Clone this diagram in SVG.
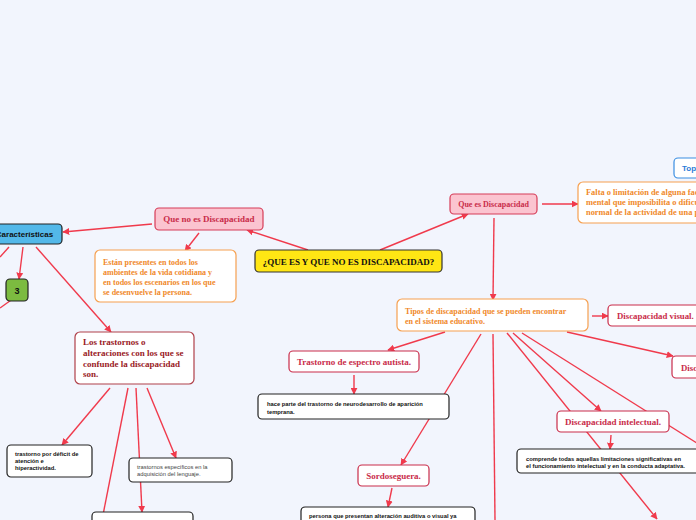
<svg xmlns="http://www.w3.org/2000/svg" width="696" height="520" viewBox="0 0 696 520">
<defs>
<marker id="ah" viewBox="0 0 10 10" refX="9" refY="5" markerWidth="7" markerHeight="7" markerUnits="userSpaceOnUse" orient="auto">
<path d="M0,0 L10,5 L0,10 z" fill="#f03a4c"/>
</marker>
<style>
.bg{fill:#f2f5fd}
.c{stroke:#f03a4c;stroke-width:1.4;fill:none}
.ca{stroke:#f03a4c;stroke-width:1.4;fill:none;marker-end:url(#ah)}
.pink{fill:#fbc4d0;stroke:#d63d58;stroke-width:1.2}
.red{fill:#fff;stroke:#c92c4a;stroke-width:1.2}
.org{fill:#fff;stroke:#f6a050;stroke-width:1.2}
.blk{fill:#fff;stroke:#222;stroke-width:1.2}
.brn{fill:#fff;stroke:#b0404a;stroke-width:1.2}
.ts{font-family:"Liberation Serif","Times New Roman",serif;font-weight:bold}
.tr{fill:#c92c4a}
.to{fill:#f0892a;font-size:8px}
.tb{font-family:"Liberation Sans",Arial,sans-serif;font-size:5.8px;font-weight:bold;fill:#111}
</style>
</defs>
<rect class="bg" x="0" y="0" width="696" height="520"/>
<g id="connectors">
<line class="ca" x1="308" y1="250" x2="247" y2="230"/>
<line class="ca" x1="380" y1="250" x2="468" y2="214"/>
<line class="ca" x1="152" y1="224" x2="63" y2="232"/>
<line class="ca" x1="199" y1="233" x2="185" y2="251"/>
<line class="ca" x1="23" y1="247" x2="19" y2="279"/>
<line class="c" x1="9" y1="247" x2="0" y2="257"/>
<line class="c" x1="14" y1="298" x2="0" y2="308"/>
<line class="ca" x1="36" y1="247" x2="111" y2="332"/>
<line class="ca" x1="110" y1="388" x2="62" y2="445"/>
<line class="ca" x1="147" y1="388" x2="176" y2="458"/>
<line class="ca" x1="136" y1="388" x2="142" y2="512"/>
<line class="c" x1="128" y1="388" x2="102" y2="520"/>
<line class="ca" x1="542" y1="204" x2="578" y2="204"/>
<line class="ca" x1="494" y1="218" x2="493" y2="300"/>
<line class="ca" x1="592" y1="316" x2="608" y2="316"/>
<line class="ca" x1="567" y1="332" x2="673" y2="356"/>
<line class="ca" x1="445" y1="332" x2="388" y2="350"/>
<line class="ca" x1="354" y1="375" x2="354" y2="394"/>
<line class="ca" x1="481" y1="334" x2="401" y2="465"/>
<line class="ca" x1="392" y1="488" x2="388" y2="507"/>
<line class="c" x1="493" y1="334" x2="495" y2="520"/>
<line class="ca" x1="513" y1="333" x2="601" y2="411"/>
<line class="ca" x1="507" y1="333" x2="657" y2="519"/>
<line class="c" x1="522" y1="333" x2="700" y2="445"/>
<line class="ca" x1="611" y1="435" x2="610" y2="449"/>
</g>
<g id="central">
<rect x="255" y="250" width="187" height="22" rx="4" fill="#ffe614" stroke="#333" stroke-width="1.2"/>
<text class="ts" x="348.5" y="264.5" font-size="9" text-anchor="middle" fill="#111">¿QUE ES Y QUE NO ES DISCAPACIDAD?</text>
</g>
<g id="que-no-es">
<rect class="pink" x="155" y="208" width="108" height="22" rx="4"/>
<text class="ts tr" x="209" y="222" font-size="9" text-anchor="middle">Que no es Discapacidad</text>
</g>
<g id="que-es">
<rect class="pink" x="450" y="194" width="87" height="20" rx="4"/>
<text class="ts tr" x="493.5" y="207" font-size="8" text-anchor="middle">Que es Discapacidad</text>
</g>
<g id="caracteristicas">
<rect x="-14" y="224" width="76" height="20" rx="4" fill="#53b8e9" stroke="#222" stroke-width="1.2"/>
<text x="24.5" y="237" font-family="Liberation Sans,Arial,sans-serif" font-weight="bold" font-size="8" text-anchor="middle" fill="#111">Características</text>
</g>
<g id="tres">
<rect x="6" y="279" width="22" height="22" rx="4" fill="#7cbb40" stroke="#222" stroke-width="1.2"/>
<text x="17" y="294" font-family="Liberation Sans,Arial,sans-serif" font-weight="bold" font-size="9" text-anchor="middle" fill="#111">3</text>
</g>
<g id="estan">
<rect class="org" x="95" y="250" width="141" height="52" rx="5"/>
<text class="ts to"><tspan x="103" y="265">Están presentes en todos los</tspan><tspan x="103" y="275">ambientes de la vida cotidiana y</tspan><tspan x="103" y="285">en todos los escenarios en los que</tspan><tspan x="103" y="295">se desenvuelve la persona.</tspan></text>
</g>
<g id="topic">
<rect x="674" y="158" width="40" height="20" rx="4" fill="#fff" stroke="#3a8ee2" stroke-width="1.2"/>
<text x="682" y="171" font-family="Liberation Sans,Arial,sans-serif" font-weight="bold" font-size="8" fill="#2a7bd8">Topic</text>
</g>
<g id="falta">
<rect class="org" x="578" y="182" width="140" height="41" rx="5"/>
<text class="ts" font-size="8.4" fill="#f0892a"><tspan x="586" y="195">Falta o limitación de alguna facultad</tspan><tspan x="586" y="205">mental que imposibilita o dificulta</tspan><tspan x="586" y="215">normal de la actividad de una persona</tspan></text>
</g>
<g id="tipos">
<rect class="org" x="397" y="299" width="191" height="32" rx="5"/>
<text class="ts to"><tspan x="405" y="314">Tipos de discapacidad que se pueden encontrar</tspan><tspan x="405" y="324">en el sistema educativo.</tspan></text>
</g>
<g id="visual">
<rect class="red" x="608" y="305" width="100" height="21" rx="4"/>
<text class="ts tr" x="617" y="319" font-size="8.8">Discapacidad visual.</text>
</g>
<g id="auditiva">
<rect class="red" x="672" y="356" width="60" height="22" rx="4"/>
<text class="ts tr" x="681" y="370.5" font-size="8.8">Discapacidad auditiva.</text>
</g>
<g id="autista">
<rect class="red" x="289" y="351" width="130" height="21" rx="4"/>
<text class="ts tr" x="354" y="365" font-size="9" text-anchor="middle">Trastorno de espectro autista.</text>
</g>
<g id="hace-parte">
<rect class="blk" x="258" y="394" width="191" height="25" rx="4"/>
<text class="tb"><tspan x="267" y="405.5">hace parte del trastorno de neurodesarrollo de aparición</tspan><tspan x="267" y="413.5">temprana.</tspan></text>
</g>
<g id="intelectual">
<rect class="red" x="557" y="411" width="112" height="21" rx="4"/>
<text class="ts tr" x="613" y="425" font-size="9" text-anchor="middle">Discapacidad intelectual.</text>
</g>
<g id="comprende">
<rect class="blk" x="517" y="449" width="190" height="24" rx="4"/>
<text class="tb"><tspan x="526" y="460.5">comprende todas aquellas limitaciones significativas en</tspan><tspan x="526" y="468">el funcionamiento intelectual y en la conducta adaptativa.</tspan></text>
</g>
<g id="sordoseguera">
<rect class="red" x="358" y="465" width="71" height="21" rx="4"/>
<text class="ts tr" x="393.5" y="479" font-size="9" text-anchor="middle">Sordoseguera.</text>
</g>
<g id="persona">
<rect class="blk" x="301" y="507" width="174" height="24" rx="4"/>
<text class="tb" x="309" y="518">persona que presentan alteración auditiva o visual ya</text>
</g>
<g id="los-trastornos">
<rect class="brn" x="75" y="332" width="119" height="52" rx="5"/>
<text class="ts" font-size="9" fill="#9a1b1f"><tspan x="83" y="345">Los trastornos o</tspan><tspan x="83" y="356">alteraciones con los que se</tspan><tspan x="83" y="366.5">confunde la discapacidad</tspan><tspan x="83" y="377">son.</tspan></text>
</g>
<g id="tdah">
<rect class="blk" x="7" y="445" width="85" height="32" rx="4"/>
<text class="tb"><tspan x="15" y="456">trastorno por déficit de</tspan><tspan x="15" y="463">atención e</tspan><tspan x="15" y="470">hiperactividad.</tspan></text>
</g>
<g id="lenguaje">
<rect class="blk" x="129" y="458" width="103" height="24" rx="4"/>
<text font-family="Liberation Sans,Arial,sans-serif" font-size="5.8" fill="#444"><tspan x="137" y="469">trastornos específicos en la</tspan><tspan x="137" y="476">adquisición del lenguaje.</tspan></text>
</g>
<g id="bottom-box">
<rect class="blk" x="92" y="512" width="101" height="24" rx="4"/>
</g>
</svg>
